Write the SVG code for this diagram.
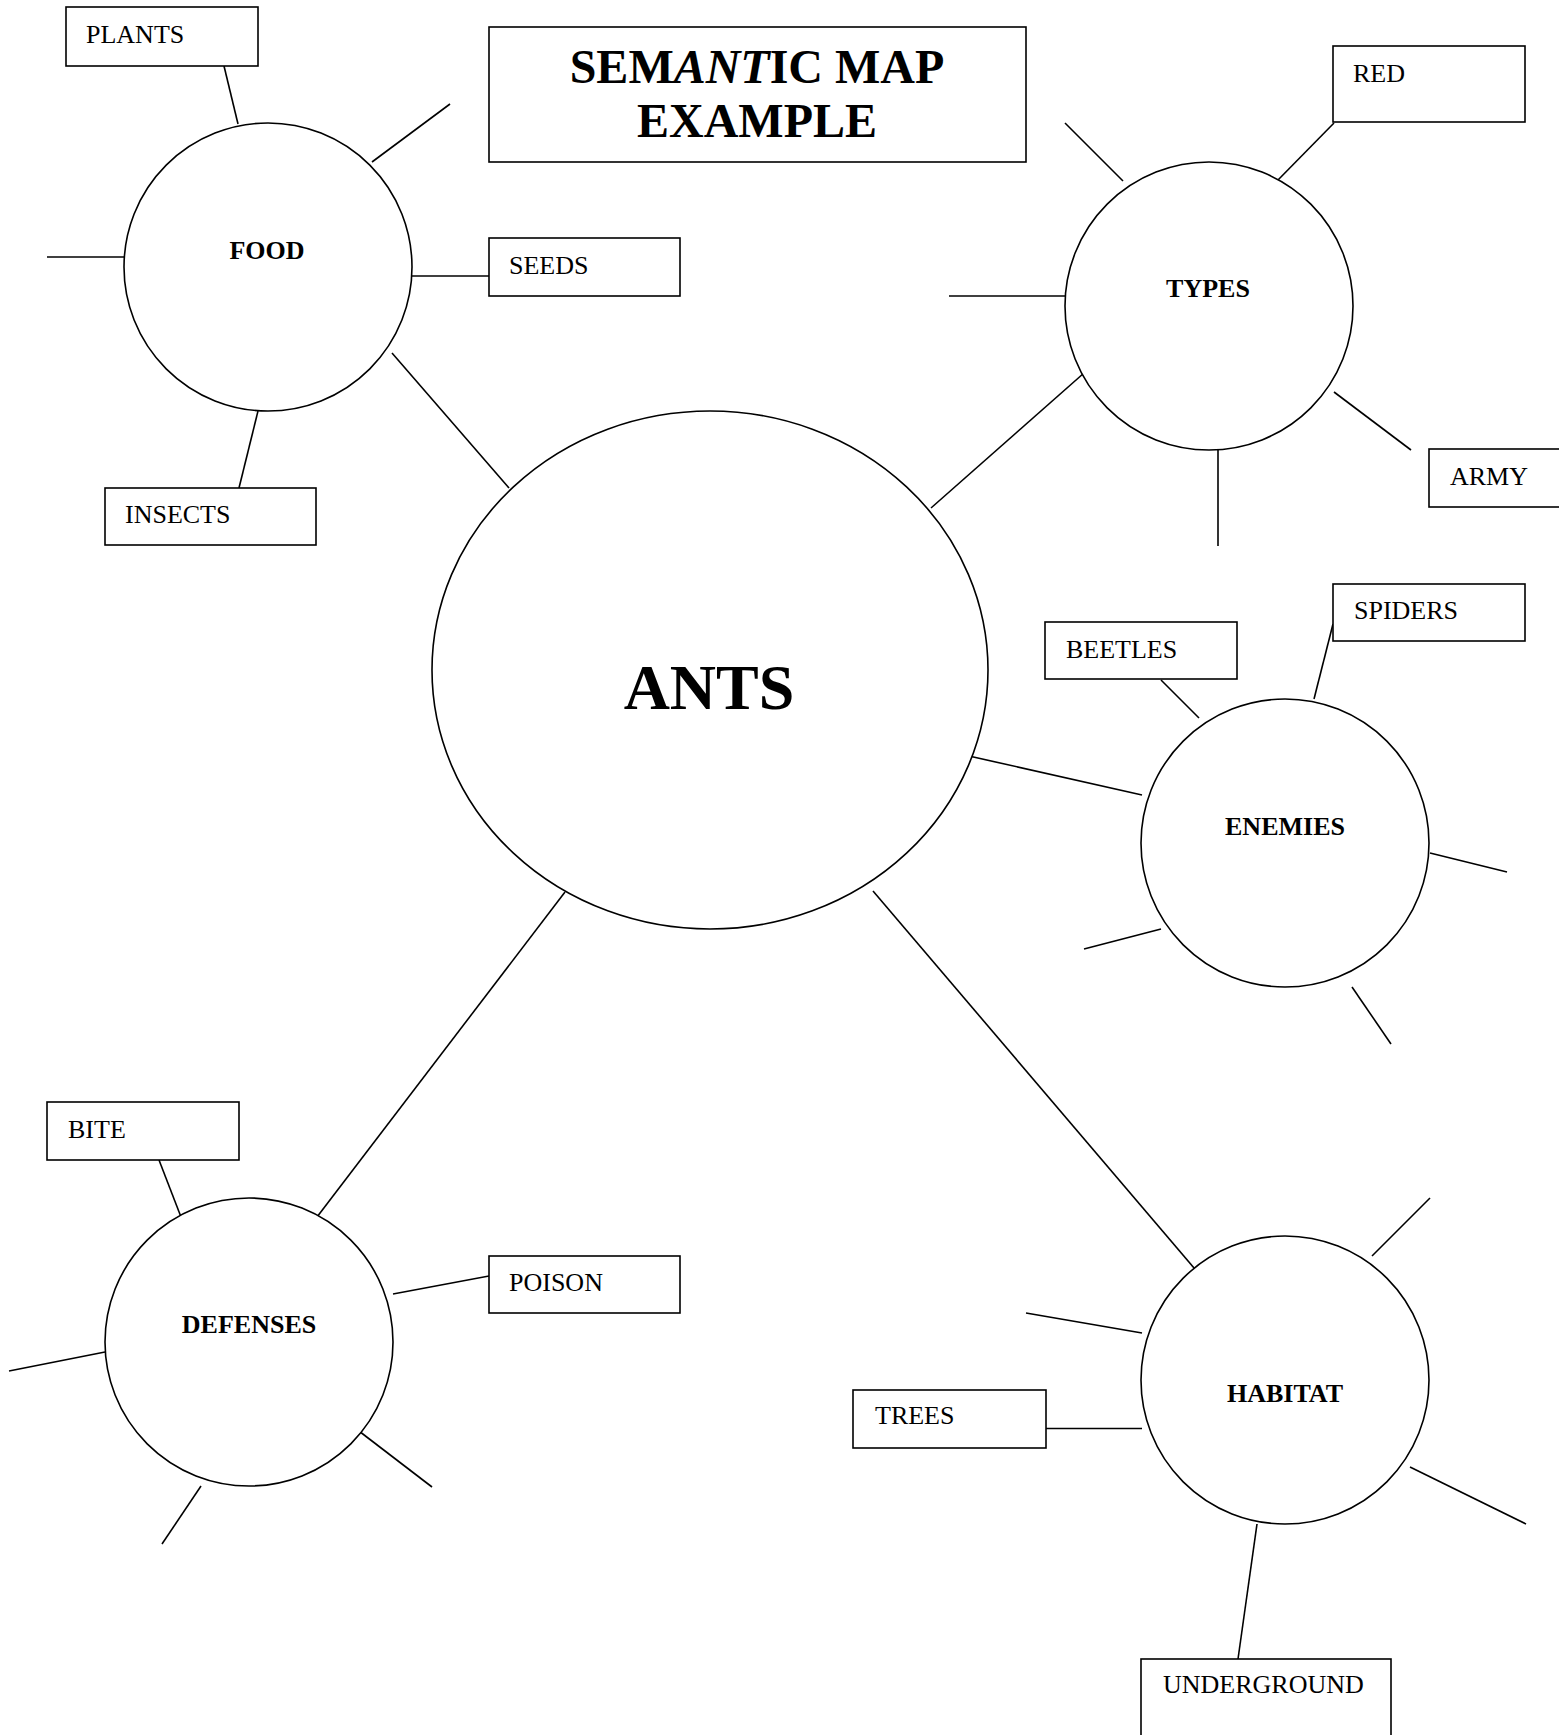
<svg xmlns="http://www.w3.org/2000/svg" width="1559" height="1735" viewBox="0 0 1559 1735">
<style>
.b{fill:#fff;stroke:#000;stroke-width:1.6}
.c{fill:#fff;stroke:#000;stroke-width:1.6}
.l{stroke:#000;stroke-width:1.6;fill:none}
.t{font-family:"Liberation Serif","Times New Roman",serif;font-size:26px;fill:#000}
.n{font-family:"Liberation Serif","Times New Roman",serif;font-size:26px;font-weight:bold;fill:#000;text-anchor:middle}
.h{font-family:"Liberation Serif","Times New Roman",serif;font-size:48px;font-weight:bold;fill:#000;text-anchor:middle}
</style>
<rect width="1559" height="1735" fill="#fff"/>
<g id="connectors">
<line class="l" x1="224" y1="66" x2="238" y2="124"/>
<line class="l" x1="372" y1="162" x2="450" y2="104"/>
<line class="l" x1="47" y1="257" x2="124" y2="257"/>
<line class="l" x1="412" y1="276" x2="489" y2="276"/>
<line class="l" x1="258" y1="411" x2="239" y2="488"/>
<line class="l" x1="392" y1="353" x2="509" y2="488"/>
<line class="l" x1="1334" y1="123" x2="1277" y2="181"/>
<line class="l" x1="1065" y1="123" x2="1123" y2="181"/>
<line class="l" x1="949" y1="296" x2="1065" y2="296"/>
<line class="l" x1="1084" y1="373" x2="931" y2="508"/>
<line class="l" x1="1218" y1="450" x2="1218" y2="546"/>
<line class="l" x1="1334" y1="392" x2="1411" y2="450"/>
<line class="l" x1="1161" y1="680" x2="1199" y2="718"/>
<line class="l" x1="1333" y1="624" x2="1314" y2="699"/>
<line class="l" x1="969" y1="756" x2="1142" y2="795"/>
<line class="l" x1="1430" y1="853" x2="1507" y2="872"/>
<line class="l" x1="1161" y1="929" x2="1084" y2="949"/>
<line class="l" x1="1352" y1="987" x2="1391" y2="1044"/>
<line class="l" x1="873" y1="891" x2="1200" y2="1275"/>
<line class="l" x1="1372" y1="1256" x2="1430" y2="1198"/>
<line class="l" x1="1026" y1="1313" x2="1142" y2="1333"/>
<line class="l" x1="1046" y1="1428.5" x2="1142" y2="1428.5"/>
<line class="l" x1="1410" y1="1467" x2="1526" y2="1524"/>
<line class="l" x1="1257" y1="1524" x2="1238" y2="1659"/>
<line class="l" x1="159" y1="1160" x2="181" y2="1217"/>
<line class="l" x1="565" y1="892" x2="317" y2="1217"/>
<line class="l" x1="489" y1="1276" x2="393" y2="1294"/>
<line class="l" x1="9" y1="1371" x2="105" y2="1352"/>
<line class="l" x1="355" y1="1428" x2="432" y2="1487"/>
<line class="l" x1="201" y1="1486" x2="162" y2="1544"/>
</g>
<g id="title">
<rect class="b" x="489" y="27" width="537" height="135"/>
<text class="h" x="757" y="83">SEM<tspan font-style="italic">ANT</tspan>IC MAP</text>
<text class="h" x="757" y="137">EXAMPLE</text>
</g>
<g id="ants">
<ellipse class="c" cx="710" cy="670" rx="278" ry="259"/>
<text class="n" x="709" y="709" style="font-size:64px">ANTS</text>
</g>
<g id="food">
<circle class="c" cx="268" cy="267" r="144"/>
<text class="n" x="267" y="259">FOOD</text>
</g>
<g id="plants"><rect class="b" x="66" y="7" width="192" height="59"/><text class="t" x="86" y="43">PLANTS</text></g>
<g id="seeds"><rect class="b" x="489" y="238" width="191" height="58"/><text class="t" x="509" y="274">SEEDS</text></g>
<g id="insects"><rect class="b" x="105" y="488" width="211" height="57"/><text class="t" x="125" y="523">INSECTS</text></g>
<g id="types">
<circle class="c" cx="1209" cy="306" r="144"/>
<text class="n" x="1208" y="297">TYPES</text>
</g>
<g id="red"><rect class="b" x="1333" y="46" width="192" height="76"/><text class="t" x="1353" y="82">RED</text></g>
<g id="army"><rect class="b" x="1429" y="449" width="140" height="58"/><text class="t" x="1450" y="485">ARMY</text></g>
<g id="enemies">
<circle class="c" cx="1285" cy="843" r="144"/>
<text class="n" x="1285" y="835">ENEMIES</text>
</g>
<g id="beetles"><rect class="b" x="1045" y="622" width="192" height="57"/><text class="t" x="1066" y="658">BEETLES</text></g>
<g id="spiders"><rect class="b" x="1333" y="584" width="192" height="57"/><text class="t" x="1354" y="619">SPIDERS</text></g>
<g id="defenses">
<circle class="c" cx="249" cy="1342" r="144"/>
<text class="n" x="249" y="1333">DEFENSES</text>
</g>
<g id="bite"><rect class="b" x="47" y="1102" width="192" height="58"/><text class="t" x="68" y="1138">BITE</text></g>
<g id="poison"><rect class="b" x="489" y="1256" width="191" height="57"/><text class="t" x="509" y="1291">POISON</text></g>
<g id="habitat">
<circle class="c" cx="1285" cy="1380" r="144"/>
<text class="n" x="1285" y="1402">HABITAT</text>
</g>
<g id="trees"><rect class="b" x="853" y="1390" width="193" height="58"/><text class="t" x="875" y="1424">TREES</text></g>
<g id="underground"><rect class="b" x="1141" y="1659" width="250" height="90"/><text class="t" x="1163" y="1693">UNDERGROUND</text></g>
</svg>
